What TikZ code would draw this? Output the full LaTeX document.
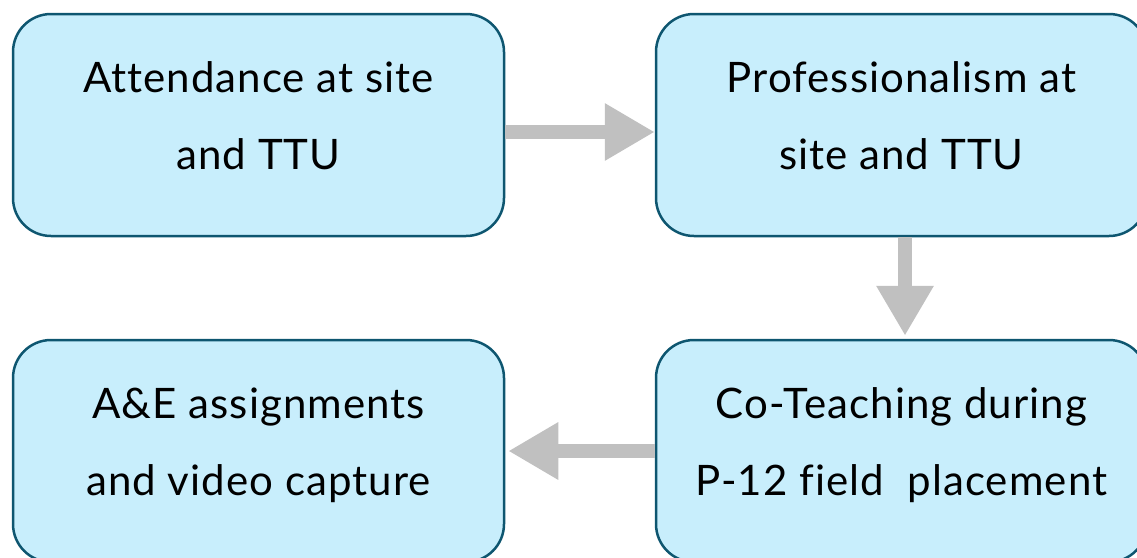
\documentclass[tikz,border=0pt]{standalone}
\usepackage{fontspec}
\setmainfont{Lato}[Ligatures={NoCommon}, LetterSpace=2.5]
\usepackage{tikz}
\usetikzlibrary{arrows.meta,positioning,calc}
\usepackage{xcolor}
\definecolor{boxfill}{HTML}{C8EEFC}
\definecolor{boxline}{HTML}{0E5670}
\definecolor{arrowgray}{HTML}{C0C0C0}

\begin{document}
\begin{tikzpicture}[x=1pt, y=-1pt,
    stage/.style={draw=boxline, line width=2.5pt, fill=boxfill, rounded corners=38pt,
        minimum width=491pt, minimum height=222pt, align=center, text depth=18pt,
        font=\fontsize{42}{77}\selectfont},
    flow/.style={arrowgray, line width=13.5pt, -{Triangle[length=50pt, width=54pt]}}]
            \useasboundingbox (0,0) rectangle (1137,557);
            \clip (0,0) rectangle (1137,557);

            % Top row
            \node[stage] (attend) at (258.5,125) {Attendance at site\\and TTU};
            \node[stage] (prof) at (901.5,125) {Professionalism at\\site and TTU};

            % Bottom row
            \node[stage] (ae) at (258.5,451) {A\&E assignments\\and video capture};
            \node[stage] (coteach) at (901.5,451) {Co-Teaching during\\P-12 field\ \ placement};

            % Arrows
            \draw[flow] ([yshift=-7pt]attend.east) -- ([yshift=-7pt]prof.west);
            \draw[flow, shorten >=3pt] ([xshift=3.5pt]prof.south) -- ([xshift=3.5pt]coteach.north);
            \draw[flow, shorten >=3pt] (coteach.west) -- (ae.east);
        \end{tikzpicture}
\end{document}
